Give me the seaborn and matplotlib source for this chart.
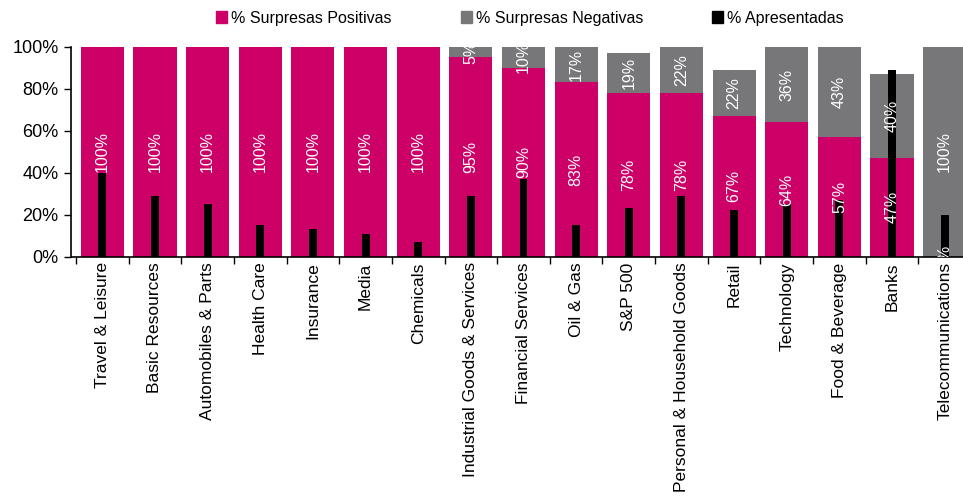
import numpy as np
import pandas as pd
import matplotlib
matplotlib.use("Agg")
import matplotlib.pyplot as plt
import seaborn as sns
from matplotlib.patches import Patch

# ------------------------------- Data ------------------------------- #
sectors = ["Travel & Leisure", "Basic Resources", "Automobiles & Parts", "Health Care",
           "Insurance", "Media", "Chemicals", "Industrial Goods & Services",
           "Financial Services", "Oil & Gas", "S&P 500", "Personal & Household Goods",
           "Retail", "Technology", "Food & Beverage", "Banks", "Telecommunications"]
positivas = [100, 100, 100, 100, 100, 100, 100, 95, 90, 83, 78, 78, 67, 64, 57, 47, 0]
negativas = [0, 0, 0, 0, 0, 0, 0, 5, 10, 17, 19, 22, 22, 36, 43, 40, 100]
apresentadas = [40, 29, 25, 15, 13, 11, 7, 29, 37, 15, 23, 29, 22, 25, 27, 89, 20]

PINK = "#CC0066"
GREY = "#77777A"

df = pd.DataFrame({"sector": sectors, "pos": positivas, "neg": negativas,
                   "apr": apresentadas})
df["total"] = df["pos"] + df["neg"]

sns.set_style("white")
plt.rcParams["font.family"] = ["Liberation Sans", "DejaVu Sans"]
plt.rcParams["text.color"] = "black"
plt.rcParams["xtick.labelcolor"] = "black"
plt.rcParams["ytick.labelcolor"] = "black"

fig = plt.figure(figsize=(9.63, 4.99), dpi=100)
ax = fig.add_axes([71 / 963, 1 - 256.7 / 499, 900 / 963, 210 / 499])

# stacked bars: grey total underneath, pink positives on top, thin black bars
bar_kw = dict(saturation=1, ax=ax, linewidth=0, edgecolor="none")
sns.barplot(data=df, x="sector", y="total", color=GREY, width=0.82, zorder=1, **bar_kw)
sns.barplot(data=df, x="sector", y="pos", color=PINK, width=0.82, zorder=2, **bar_kw)
sns.barplot(data=df, x="sector", y="apr", color="black", width=0.15, zorder=3, **bar_kw)

# value labels inside segments
for i, row in df.iterrows():
    if row["neg"] > 0:
        ax.text(i, row["pos"] + row["neg"] / 2, f"{row['neg']}%", rotation=90,
                ha="center", va="center", color="white", fontsize=11.5, zorder=5,
                clip_on=True)
    ax.text(i, row["pos"] / 2, f"{row['pos']}%", rotation=90,
            ha="center", va="center", color="white", fontsize=11.5, zorder=5,
            clip_on=True)

ax.set_xlim(-0.595, 16.48)
ax.set_ylim(0, 100)
ax.set_yticks(np.arange(0, 101, 20))
ax.set_yticklabels([f"{v}%" for v in range(0, 101, 20)], fontsize=13)
ax.set_xlabel("")
ax.set_ylabel("")

ax.set_xticks(np.arange(len(sectors)))
ax.set_xticklabels(sectors, rotation=90, fontsize=12.5)
ax.set_xticks(np.arange(-0.5, len(sectors), 1), minor=True)
ax.tick_params(axis="x", which="major", length=0, pad=4)
ax.tick_params(axis="x", which="minor", length=5, width=1, direction="out",
               color="black", bottom=True)
ax.tick_params(axis="y", length=5, width=1, direction="out", color="black",
               left=True, pad=4)

for s in ["top", "right"]:
    ax.spines[s].set_visible(False)
for s in ["left", "bottom"]:
    ax.spines[s].set_color("black")
    ax.spines[s].set_linewidth(1.2)

handles = [Patch(color=PINK, label="% Surpresas Positivas"),
           Patch(color=GREY, label="% Surpresas Negativas"),
           Patch(color="black", label="% Apresentadas")]
fig.legend(handles=handles, loc="center", bbox_to_anchor=(530 / 963, 1 - 18 / 499),
           ncol=3, frameon=False, fontsize=11.5, handlelength=0.7,
           handleheight=0.7, handletextpad=0.25, columnspacing=4.3)

fig.savefig("out.png", dpi=100)
